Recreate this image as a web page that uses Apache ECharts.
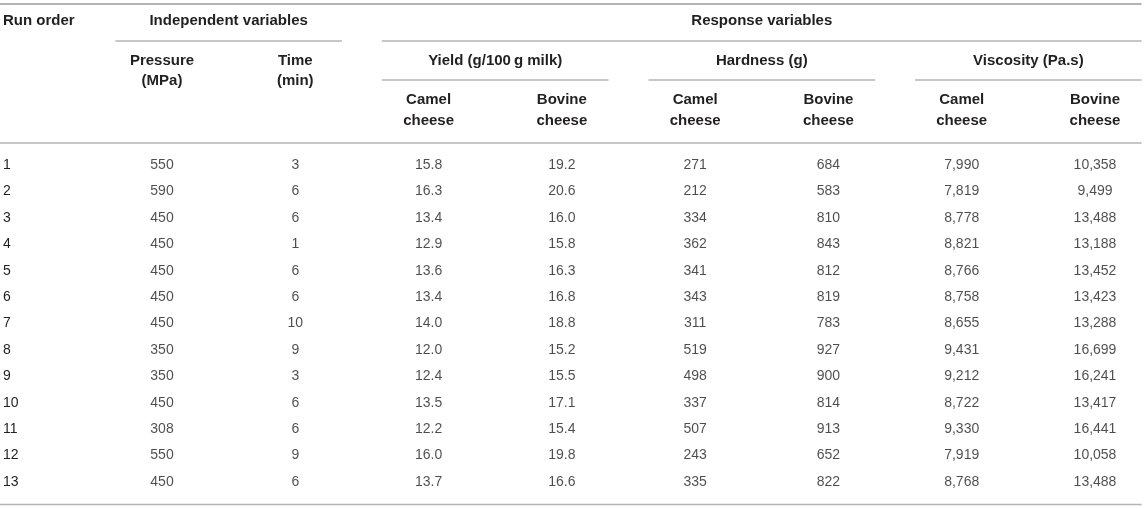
<!DOCTYPE html>
<html>
<head>
<meta charset="utf-8">
<script src="https://cdn.jsdelivr.net/npm/echarts@6/dist/echarts.min.js"></script>
<style>
html,body{margin:0;padding:0;background:#fff;}
#c{width:1145px;height:508px;}
</style>
</head>
<body>
<div id="c"></div>
<script>
// ---- data ----
var runOrder = ['1','2','3','4','5','6','7','8','9','10','11','12','13'];
var pressure = [550,590,450,450,450,450,450,350,350,450,308,550,450];
var time = [3,6,6,1,6,6,10,9,3,6,6,9,6];
var yieldCamel = [15.8,16.3,13.4,12.9,13.6,13.4,14.0,12.0,12.4,13.5,12.2,16.0,13.7];
var yieldBovine = [19.2,20.6,16.0,15.8,16.3,16.8,18.8,15.2,15.5,17.1,15.4,19.8,16.6];
var hardCamel = [271,212,334,362,341,343,311,519,498,337,507,243,335];
var hardBovine = [684,583,810,843,812,819,783,927,900,814,913,652,822];
var viscCamel = [7990,7819,8778,8821,8766,8758,8655,9431,9212,8722,9330,7919,8768];
var viscBovine = [10358,9499,13488,13188,13452,13423,13288,16699,16241,13417,16441,10058,13488];

// ---- header texts ----
var runHeader = 'Run order';
var groupHeaders = ['Independent variables', 'Response variables'];
var columnHeaders = ['Pressure\n(MPa)', 'Time\n(min)'];
var responseHeaders = ['Yield (g/100\u2009g milk)', 'Hardness (g)', 'Viscosity (Pa.s)'];
var cheeseHeaders = ['Camel\ncheese', 'Bovine\ncheese'];
var columnKeys = ['P','T','YC','YB','HC','HB','VC','VB'];

// ---- build ----
function f0(v){ return String(v); }
function f1(v){ return v.toFixed(1); }
function fc(v){ return v.toLocaleString('en-US'); }
var cols = [
  [pressure, f0], [time, f0], [yieldCamel, f1], [yieldBovine, f1],
  [hardCamel, f0], [hardBovine, f0], [viscCamel, fc], [viscBovine, fc]
];

var FONT = '"Liberation Sans", Arial, Helvetica, sans-serif';
var TXT = '#231f20';
var RULE = '#b4b4b4';
var DATA_SIZE = 14;
var HEAD_SIZE = 15;

var series = cols.map(function(c, j){
  return {
    type: 'scatter',
    symbol: 'rect',
    symbolSize: 1,
    itemStyle: {color: 'rgba(0,0,0,0)'},
    silent: true,
    label: {
      show: true, position: 'inside', formatter: '{b}',
      color: TXT, fontSize: DATA_SIZE, fontFamily: FONT
    },
    data: c[0].map(function(v, i){ return {name: c[1](v), value: [j, i]}; })
  };
});

var chart = echarts.init(document.getElementById('c'));
chart.setOption({
  animation: false,
  grid: {left: 162, right: 50, top: 165, bottom: 26},
  xAxis: {type: 'category', data: columnKeys, boundaryGap: false, show: false},
  yAxis: {
    type: 'category', data: runOrder, boundaryGap: false, inverse: true,
    axisLine: {show: false}, axisTick: {show: false}, splitLine: {show: false},
    axisLabel: {align: 'left', margin: 159, color: TXT, fontSize: DATA_SIZE, fontFamily: FONT}
  },
  series: series
});

// ---- header & rules positioned from the axis ----
function px(j){ return chart.convertToPixel({xAxisIndex: 0}, j); }
var step = px(1) - px(0);
var ext = step * 0.35;
var leftX = 3;
var fullL = 0, fullR = px(7) + ext;

var Y_TOP = 4, Y_G = 21, Y_R1 = 41, Y_S = 61, Y_R2 = 80, Y_C = 110.5, Y_HR = 143, Y_BOT = 504.5;

function txt(s, x, y, align, lh){
  return {
    type: 'text', silent: true,
    style: {
      text: s, x: x, y: y,
      align: align || 'center', textAlign: align || 'center',
      verticalAlign: 'middle', textVerticalAlign: 'middle',
      lineHeight: lh || 20,
      font: 'bold ' + HEAD_SIZE + 'px ' + FONT, fill: TXT
    }
  };
}
function rule(x1, x2, y, w){
  return {type: 'line', silent: true, shape: {x1: x1, y1: y, x2: x2, y2: y},
          style: {stroke: RULE, lineWidth: w || 1.5}};
}
var g = [];
g.push(rule(fullL, fullR, Y_TOP, 2));
g.push(rule(fullL, fullR, Y_HR, 1.5));
g.push(rule(fullL, fullR, Y_BOT, 1.5));
g.push(txt(runHeader, leftX, Y_G, 'left'));
g.push(txt(groupHeaders[0], (px(0) + px(1)) / 2, Y_G));
g.push(rule(px(0) - ext, px(1) + ext, Y_R1));
g.push(txt(groupHeaders[1], (px(2) + px(7)) / 2, Y_G));
g.push(rule(px(2) - ext, px(7) + ext, Y_R1));
g.push(txt(columnHeaders[0], px(0), Y_S + 10, 'center', 20));
g.push(txt(columnHeaders[1], px(1), Y_S + 10, 'center', 20));
for (var k = 0; k < 3; k++) {
  var a = 2 + 2 * k, b = 3 + 2 * k;
  g.push(txt(responseHeaders[k], (px(a) + px(b)) / 2, Y_S));
  g.push(rule(px(a) - ext, px(b) + ext, Y_R2));
  g.push(txt(cheeseHeaders[0], px(a), Y_C, 'center', 21));
  g.push(txt(cheeseHeaders[1], px(b), Y_C, 'center', 21));
}
chart.setOption({graphic: g});
</script>
</body>
</html>
